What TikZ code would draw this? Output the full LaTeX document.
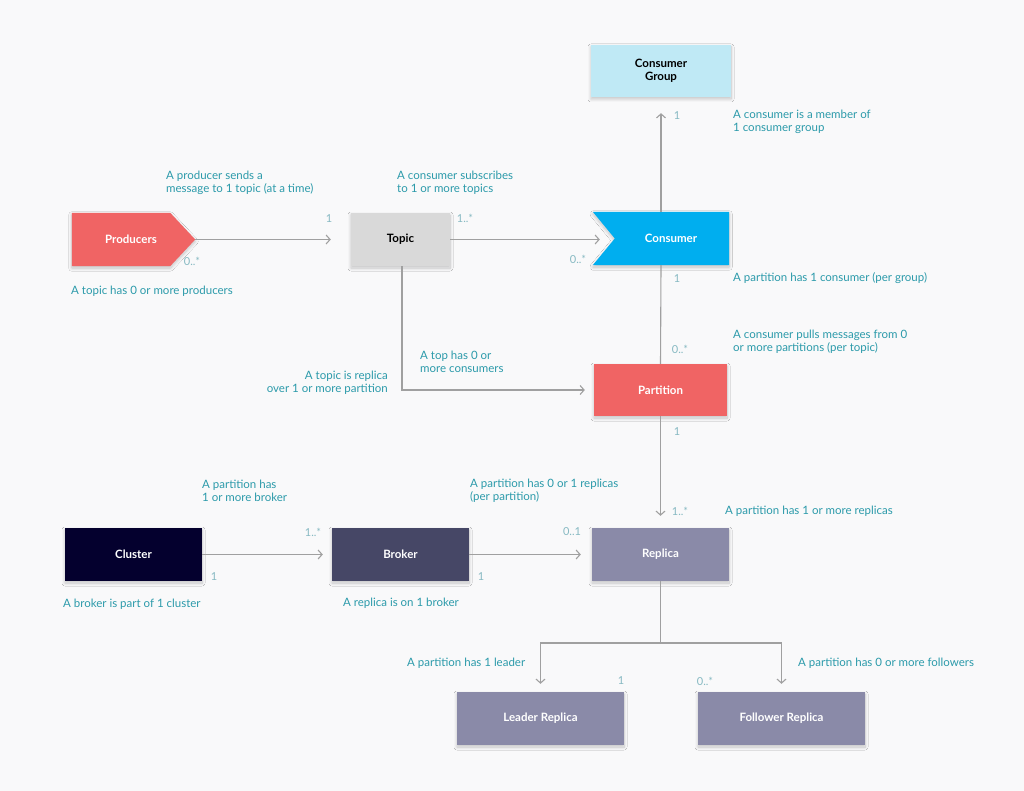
\documentclass[tikz,border=0pt]{standalone}
\usepackage{fontspec}
\setmainfont{Lato}
\usetikzlibrary{arrows.meta,shadows.blur,calc,backgrounds}
\definecolor{bgc}{HTML}{F9F9FA}
\definecolor{linec}{HTML}{A0A0A0}
\definecolor{lblc}{HTML}{2B9AAA}
\definecolor{multc}{HTML}{86B9C2}
\definecolor{cgc}{HTML}{BFE9F5}
\definecolor{redc}{HTML}{F06464}
\definecolor{topicc}{HTML}{D9D9D9}
\definecolor{consc}{HTML}{00AEEF}
\definecolor{clusc}{HTML}{04002E}
\definecolor{brokc}{HTML}{464766}
\definecolor{repc}{HTML}{8A8AA8}
\tikzset{
  shad/.style={blur shadow={shadow xshift=0pt, shadow yshift=-2pt, shadow blur steps=15, shadow blur radius=3pt, shadow opacity=22}},
  box/.style={draw=none, minimum width=137pt, minimum height=53pt, inner sep=0pt,
    font=\fontsize{11.5}{13}\selectfont\bfseries, text=white, align=center},
  sbox/.style={box, shad},
  conn/.style={draw=linec, line width=1.1pt, -{Straight Barb[length=4pt,width=9pt]}},
  plain/.style={draw=linec, line width=1.1pt},
  lbl/.style={text=lblc, font=\fontsize{11.5}{12.8}\selectfont, inner sep=0pt, align=left},
  mult/.style={text=multc, font=\fontsize{11}{12.5}\selectfont, inner sep=0pt}
}
\begin{document}
\begin{tikzpicture}[x=1pt,y=-1pt]
\useasboundingbox (0,0) rectangle (1024,791);

% nodes
\node[sbox, fill=cgc, text=black, minimum width=140pt, minimum height=52pt] (cg) at (661,71) {Consumer\\Group};
\node[box, minimum width=123pt] (prod) at (133.5,239.5) {\hspace*{-5pt}Producers};
\node[sbox, fill=topicc, text=black, minimum width=99pt] (topic) at (400.5,239.5) {Topic};
\node[box, minimum width=136pt] (cons) at (661,238.5) {\hspace*{20pt}Consumer};
\node[sbox, fill=redc, minimum width=133pt, minimum height=52pt] (part) at (660.5,390) {Partition};
\node[sbox, fill=clusc] (cluster) at (133.5,554.5) {Cluster};
\node[sbox, fill=brokc] (broker) at (400.5,554.5) {Broker};
\node[sbox, fill=repc] (replica) at (660.5,554.5) {Replica};
\node[sbox, fill=repc, minimum width=167pt] (leader) at (540.5,718.5) {Leader Replica};
\node[sbox, fill=repc, minimum width=167pt] (follower) at (781.5,718.5) {Follower Replica};
\coordinate (notch) at ([xshift=22pt]cons.west);

\begin{scope}[on background layer]
\fill[bgc] (0,0) rectangle (1024,791);
\fill[redc, shad] (prod.north west) -- ([xshift=-25pt]prod.north east) -- (prod.east)
  -- ([xshift=-25pt]prod.south east) -- (prod.south west) -- cycle;
\fill[consc, shad] (cons.north west) -- (cons.north east) -- (cons.south east)
  -- (cons.south west) -- (notch) -- cycle;
\end{scope}

% connectors
\draw[conn, shorten >=20pt] (prod.east) -- (topic.west);
\draw[conn, shorten >=15pt] (topic.east) -- (topic.east -| notch);
\draw[conn, shorten >=16pt] (cons.north) -- (cg.south);
\draw[plain] (cons.south) -- (part.north);
\draw[conn, shorten >=9pt] ([xshift=1.5pt]topic.south) |- (part.west);
\draw[conn, shorten >=12pt] (part.south) -- (replica.north);
\draw[conn, shorten >=9pt] (cluster.east) -- (broker.west);
\draw[conn, shorten >=11pt] (broker.east) -- (replica.west);
\coordinate (j) at (660.5,643);
\draw[plain] (replica.south) -- (j);
\draw[conn, shorten >=8pt] (j) -| (leader.north);
\draw[conn, shorten >=8pt] (j) -| (follower.north);

% multiplicities
\node[mult] (m1) at (329,219) {1};
\node[mult] (m2) at (192,261) {0..*};
\node[mult] (m3) at (465,218) {1..*};
\node[mult] (m4) at (578,259) {0..*};
\node[mult] (m5) at (677,116) {1};
\node[mult] (m6) at (677,279) {1};
\node[mult] (m7) at (680,349) {0..*};
\node[mult] (m8) at (677,432) {1};
\node[mult] (m9) at (680,511) {1..*};
\node[mult] (m10) at (313,532) {1..*};
\node[mult] (m11) at (214,577) {1};
\node[mult] (m12) at (572,532) {0..1};
\node[mult] (m13) at (481,577) {1};
\node[mult] (m14) at (621,681) {1};
\node[mult] (m15) at (705,681) {0..*};

% labels
\node[lbl, anchor=west] (l1) at (166,183) {A producer sends a\\message to 1 topic (at a time)};
\node[lbl, anchor=west] (l2) at (71,291) {A topic has 0 or more producers};
\node[lbl, anchor=west] (l3) at (397,183) {A consumer subscribes\\to 1 or more topics};
\node[lbl, anchor=west] (l4) at (733,122) {A consumer is a member of\\1 consumer group};
\node[lbl, anchor=west] (l5) at (733,278) {A partition has 1 consumer (per group)};
\node[lbl, anchor=west] (l6) at (733,342) {A consumer pulls messages from 0\\or more partitions (per topic)};
\node[lbl, anchor=west] (l7) at (420,362) {A top has 0 or\\more consumers};
\node[lbl, anchor=east, align=right] (l8) at (388,383) {A topic is replica\\over 1 or more partition};
\node[lbl, anchor=west] (l9) at (202,491) {A partition has\\1 or more broker};
\node[lbl, anchor=west] (l10) at (470,491) {A partition has 0 or 1 replicas\\(per partition)};
\node[lbl, anchor=west] (l11) at (725,511) {A partition has 1 or more replicas};
\node[lbl, anchor=west] (l12) at (63,604) {A broker is part of 1 cluster};
\node[lbl, anchor=west] (l13) at (343,603) {A replica is on 1 broker};
\node[lbl, anchor=west] (l14) at (407,663) {A partition has 1 leader};
\node[lbl, anchor=west] (l15) at (798,663) {A partition has 0 or more followers};
\end{tikzpicture}
\end{document}
